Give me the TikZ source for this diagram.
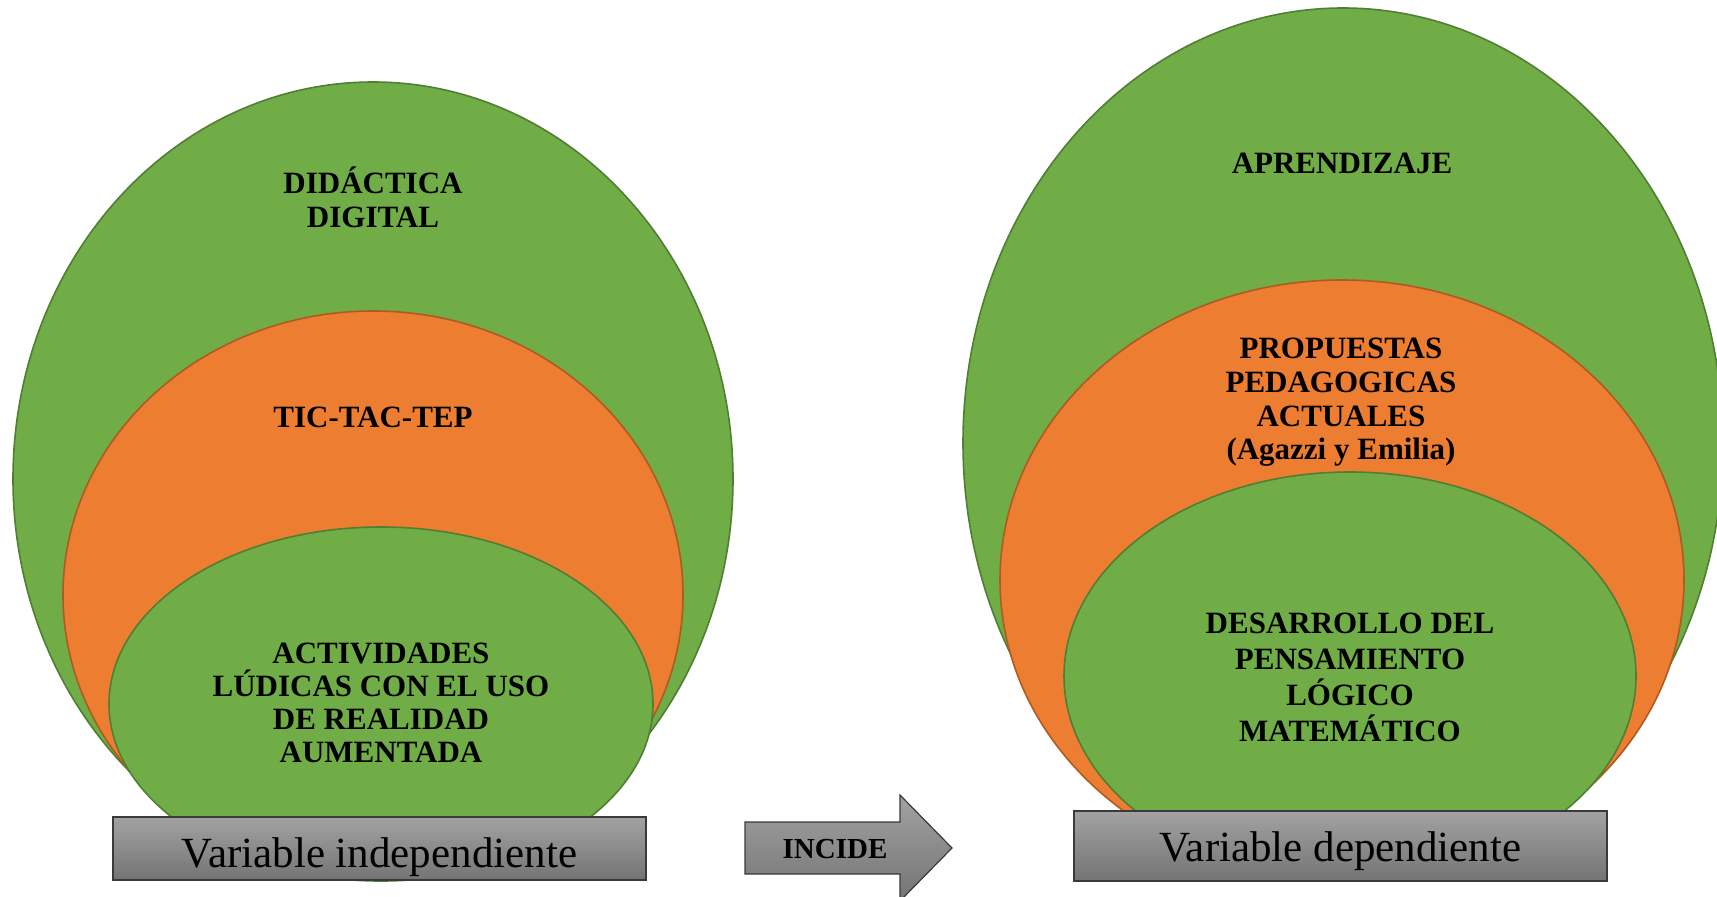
\documentclass[tikz,border=0pt]{standalone}
\usepackage{fontspec}
\setmainfont{Liberation Serif}
\usetikzlibrary{shapes.geometric}
\definecolor{greenF}{HTML}{70AD47}
\definecolor{greenB}{HTML}{507E32}
\definecolor{orangeF}{HTML}{ED7D31}
\definecolor{orangeB}{HTML}{AE5A21}
\definecolor{boxT}{HTML}{A2A2A2}
\definecolor{boxBot}{HTML}{747474}
\definecolor{boxB}{HTML}{3A3A3A}
\begin{document}
\begin{tikzpicture}[x=1pt,y=-1pt,
  gell/.style={ellipse,draw=greenB,fill=greenF,line width=1.6pt,inner sep=0pt},
  oell/.style={ellipse,draw=orangeB,fill=orangeF,line width=1.6pt,inner sep=0pt},
  lbl/.style={font=\bfseries\fontsize{31}{33}\selectfont,align=center,text=black,inner sep=0pt},
  varbox/.style={draw=boxB,line width=1.5pt,top color=boxT,bottom color=boxBot,inner sep=0pt},
  vartext/.style={font=\fontsize{43}{45}\selectfont,text=black,inner sep=0pt,anchor=base}]
\useasboundingbox (0,0) rectangle (1717,897);
\clip (0,0) rectangle (1717,897);
% left group
\node[gell,minimum width=720pt,minimum height=794pt] (L1) at (373,479) {};
\node[oell,minimum width=620pt,minimum height=568pt] (L2) at (373,595) {};
\node[gell,minimum width=544pt,minimum height=354pt] (L3) at (381,704) {};
\node[lbl,font=\bfseries\fontsize{31}{34}\selectfont] (tL1) at (373,197) {DIDÁCTICA\\DIGITAL};
\node[lbl] (tL2) at (373,417) {TIC-TAC-TEP};
\node[lbl] (tL3) at (381,703) {ACTIVIDADES\\LÚDICAS CON EL USO\\DE REALIDAD\\AUMENTADA};
\node[varbox,minimum width=533pt,minimum height=63pt] (bL) at (379.5,848.5) {};
\node[vartext] (vL) at (379.5,867) {Variable independiente};
% right group
\node[gell,minimum width=760pt,minimum height=870pt] (R1) at (1343,443) {};
\node[oell,minimum width=684pt,minimum height=600pt] (R2) at (1342,580) {};
\node[gell,minimum width=572pt,minimum height=408pt] (R3) at (1350,676) {};
\node[lbl] (tR1) at (1342,163) {APRENDIZAJE};
\node[lbl,font=\bfseries\fontsize{31}{33.7}\selectfont] (tR2) at (1341,402.5) {PROPUESTAS\\PEDAGOGICAS\\ACTUALES\\(Agazzi y Emilia)};
\node[lbl,font=\bfseries\fontsize{31}{36}\selectfont] (tR3) at (1350,677) {DESARROLLO DEL\\PENSAMIENTO\\LÓGICO\\MATEMÁTICO};
\node[varbox,minimum width=533pt,minimum height=70pt] (bR) at (1340.5,846) {};
\node[vartext] (vR) at (1340.5,861) {Variable dependiente};
% arrow
\draw[draw=boxB,line width=1.2pt,top color=boxT,bottom color=boxBot]
  (745,822) -- (900,822) -- (900,795) -- (952,848) -- (900,901) -- (900,874) -- (745,874) -- cycle;
\node[font=\bfseries\fontsize{29}{30}\selectfont,inner sep=0pt] (inc) at (835,849) {INCIDE};
\end{tikzpicture}
\end{document}
